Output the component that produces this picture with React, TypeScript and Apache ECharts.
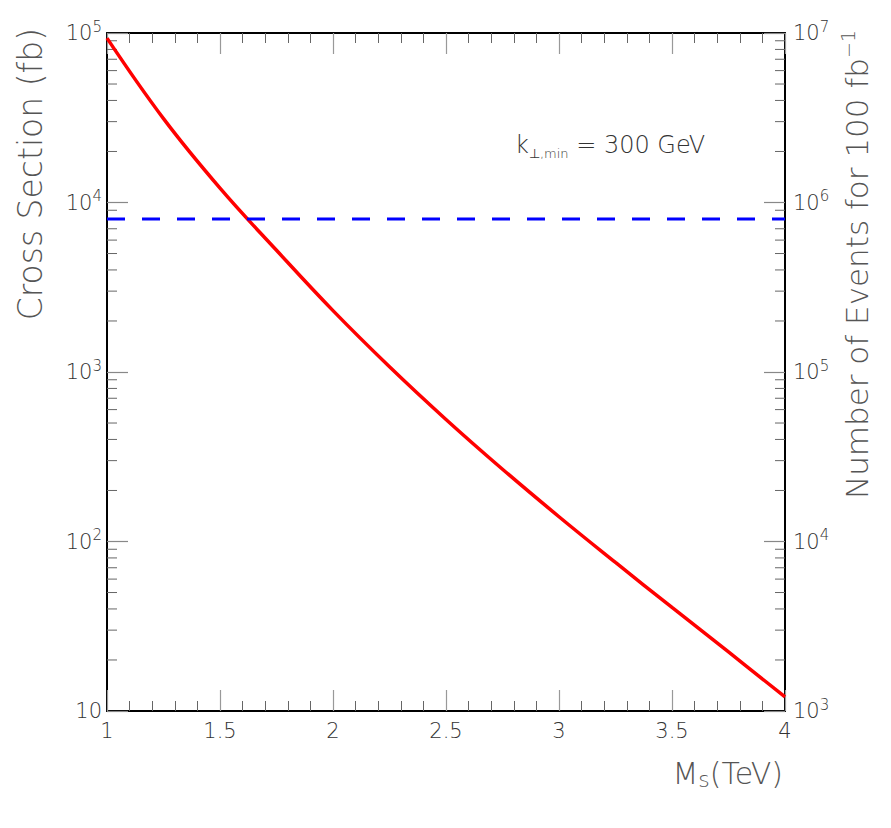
import React, { useEffect, useRef } from "react";
import * as echarts from "echarts";

// M_s (TeV) values and cross sections (fb)
const MS = [1, 1.25, 1.5, 1.75, 2, 2.25, 2.5, 2.75, 3, 3.25, 3.5, 3.75, 4];
const SIGMA = [93300, 31260, 12160, 5224, 2301, 1074, 525, 267, 140, 75.2, 40.8, 22.3, 12.1];
// horizontal dashed reference level (fb)
const REF_X = [1, 4];
const REF_LEVEL = [8000, 8000];
// minor log ticks (fb) on the left scale
const DECADES = [10, 100, 1000, 10000];
const MULTS = [2, 3, 4, 5, 6, 7, 8, 9];

const FONT = "DejaVu Sans";
const W = 300;

const supLabel = (v: number) => {
  const e = Math.round(Math.log10(v));
  return e === 1 ? "10" : `10{sup|${e}}`;
};

export default function App() {
  const ref = useRef<HTMLDivElement>(null);
  useEffect(() => {
    if (!ref.current) return;
    const chart = echarts.init(ref.current, undefined, { renderer: "svg" });
    const minorVals: number[][] = [];
    DECADES.forEach((d) => MULTS.forEach((m) => minorVals.push([1, d * m])));

    const labelRich = {
      sup: { fontSize: 15, lineHeight: 14, verticalAlign: "top", fontFamily: FONT, fontWeight: W, color: "#333" },
    };
    const xCommon = {
      type: "value",
      min: 1,
      max: 4,
      interval: 0.5,
      axisLine: { show: true, lineStyle: { color: "#000", width: 2 } },
      axisTick: { show: true, inside: true, length: 21, lineStyle: { color: "#999", width: 1.2 } },
      minorTick: { show: true, splitNumber: 5, length: 10, lineStyle: { color: "#666", width: 1 } },
      splitLine: { show: false },
      minorSplitLine: { show: false },
    };
    const yCommon = {
      type: "log",
      logBase: 10,
      axisLine: { show: true, lineStyle: { color: "#000", width: 2 } },
      axisTick: { show: true, inside: true, length: 21, lineStyle: { color: "#888", width: 1.2 } },
      splitLine: { show: false },
      axisLabel: {
        formatter: supLabel,
        fontSize: 21,
        lineHeight: 28,
        color: "#333",
        fontFamily: FONT,
        fontWeight: W,
        rich: labelRich,
      },
    };

    chart.setOption({
      animation: false,
      backgroundColor: "#fff",
      grid: { left: 107, right: 106, top: 33, bottom: 117, containLabel: false },
      xAxis: [
        {
          ...xCommon,
          position: "bottom",
          axisLabel: {
            show: true,
            margin: 9,
            fontSize: 21,
            color: "#333",
            fontFamily: FONT,
            fontWeight: W,
            formatter: (v: number) => String(v),
          },
        },
        { ...xCommon, position: "top", axisLabel: { show: false } },
      ],
      yAxis: [
        {
          ...yCommon,
          min: 10,
          max: 100000,
          position: "left",
          axisLabel: { ...yCommon.axisLabel, margin: 5 },
        },
        {
          ...yCommon,
          min: 1000,
          max: 10000000,
          position: "right",
          axisLabel: { ...yCommon.axisLabel, margin: 8 },
        },
      ],
      series: [
        {
          type: "custom",
          xAxisIndex: 0,
          yAxisIndex: 0,
          silent: true,
          data: minorVals,
          renderItem: (params: any, api: any) => {
            const v = api.value(1);
            const pL = api.coord([1, v]);
            const pR = api.coord([4, v]);
            const style = { stroke: "#666", lineWidth: 1 };
            return {
              type: "group",
              children: [
                { type: "line", shape: { x1: pL[0], y1: pL[1], x2: pL[0] + 10, y2: pL[1] }, style },
                { type: "line", shape: { x1: pR[0] - 10, y1: pR[1], x2: pR[0], y2: pR[1] }, style },
              ],
            };
          },
        },
        {
          type: "line",
          xAxisIndex: 0,
          yAxisIndex: 0,
          data: MS.map((x, i) => [x, SIGMA[i]]),
          smooth: 0.4,
          showSymbol: false,
          lineStyle: { color: "#ff0000", width: 3.5 },
        },
        {
          type: "line",
          xAxisIndex: 0,
          yAxisIndex: 0,
          data: REF_X.map((x, i) => [x, REF_LEVEL[i]]),
          showSymbol: false,
          lineStyle: { color: "#0000ff", width: 3, type: [18, 17] },
        },
      ],
      graphic: [
        {
          type: "text",
          x: 30,
          y: 28,
          rotation: Math.PI / 2,
          style: {
            text: "Cross Section (fb)",
            fontSize: 33,
            fontFamily: FONT,
            fontWeight: W,
            fill: "#555",
            align: "right",
            verticalAlign: "middle",
          },
        },
        {
          type: "text",
          x: 857,
          y: 30,
          rotation: Math.PI / 2,
          style: {
            text: "Number of Events for 100 fb{sup|−1}",
            fontSize: 31,
            lineHeight: 38,
            fontFamily: FONT,
            fontWeight: W,
            fill: "#555",
            align: "right",
            verticalAlign: "middle",
            rich: {
              sup: { fontSize: 19, lineHeight: 18, verticalAlign: "top", fontFamily: FONT, fontWeight: W, fill: "#555" },
            },
          },
        },
        {
          type: "text",
          x: 783,
          y: 773,
          style: {
            text: "M{sub|s}(TeV)",
            fontSize: 30,
            lineHeight: 34,
            fontFamily: FONT,
            fontWeight: W,
            fill: "#555",
            align: "right",
            verticalAlign: "middle",
            rich: {
              sub: { fontSize: 22, lineHeight: 20, verticalAlign: "bottom", fontFamily: FONT, fontWeight: W, fill: "#555" },
            },
          },
        },
        {
          type: "text",
          x: 515,
          y: 145,
          style: {
            text: "k{sub|⊥,min} = 300 GeV",
            fontSize: 24,
            lineHeight: 30,
            fontFamily: FONT,
            fontWeight: W,
            fill: "#333",
            align: "left",
            verticalAlign: "middle",
            rich: {
              sub: { fontSize: 13, lineHeight: 14, verticalAlign: "bottom", fontFamily: FONT, fontWeight: W, fill: "#333" },
            },
          },
        },
      ],
    });
    return () => chart.dispose();
  }, []);
  return (
    <div
      ref={ref}
      style={{ position: "fixed", left: 0, top: 0, width: 891, height: 828, background: "#fff" }}
    />
  );
}
